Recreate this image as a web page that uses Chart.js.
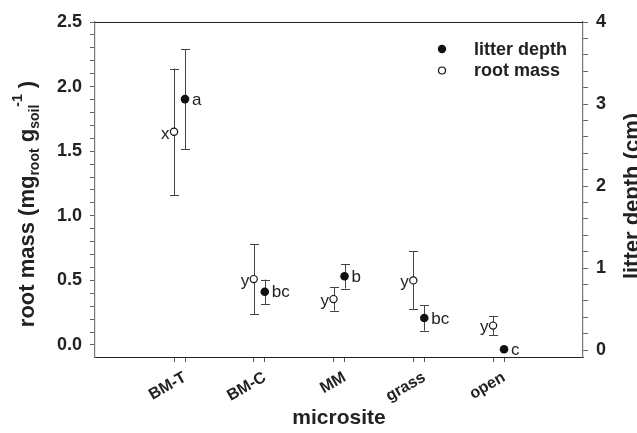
<!DOCTYPE html>
<html><head><meta charset="utf-8">
<script src="https://cdn.jsdelivr.net/npm/chart.js@4.4.0/dist/chart.umd.min.js"></script>
<style>html,body{margin:0;padding:0;background:#fff;} canvas{display:block;}</style>
</head><body>
<canvas id="c" width="637" height="433"></canvas>
<script>
const categories = ['BM-T','BM-C','MM','grass','open'];
const rootMass = [1.65, 0.51, 0.355, 0.50, 0.15];
const rootMassErr = [0.49, 0.27, 0.09, 0.225, 0.075];
const litterDepth = [3.06, 0.71, 0.90, 0.39, 0.01];
const litterDepthErr = [0.61, 0.15, 0.15, 0.155, 0];
const rootLetters = ['x','y','y','y','y'];
const litterLetters = ['a','bc','b','bc','c'];
const leftTickLabels = ['0.0','0.5','1.0','1.5','2.0','2.5'];
const rightTickLabels = ['0','1','2','3','4'];
const litterOffset = 0.138;
const FONT = '"Liberation Sans", Arial, Helvetica, sans-serif';
const TXT = '#222';

const rootData = rootMass.map((v,i)=>({x:i+1, y:v}));
const litterData = litterDepth.map((v,i)=>({x:i+1+litterOffset, y:v}));

const decor = {
  id:'decor',
  beforeDatasetsDraw(chart){
    const {ctx, chartArea:a, scales} = chart;
    const xs = scales.x, yl = scales.y, yr = scales.y2;
    ctx.save();
    ctx.strokeStyle = '#222'; ctx.lineWidth = 1;
    ctx.beginPath(); ctx.moveTo(a.left, a.top+0.5); ctx.lineTo(a.right, a.top+0.5); ctx.stroke();
    ctx.strokeStyle = '#444'; ctx.lineWidth = 1;
    const bar = (x, y1, y2) => {
      const X = Math.round(x)+0.5;
      ctx.beginPath();
      ctx.moveTo(X, y1); ctx.lineTo(X, y2);
      ctx.moveTo(X-4.5, Math.round(y1)+0.5); ctx.lineTo(X+4.5, Math.round(y1)+0.5);
      ctx.moveTo(X-4.5, Math.round(y2)+0.5); ctx.lineTo(X+4.5, Math.round(y2)+0.5);
      ctx.stroke();
    };
    rootMass.forEach((v,i)=>{
      if (rootMassErr[i]>0) bar(xs.getPixelForValue(i+1), yl.getPixelForValue(v+rootMassErr[i]), yl.getPixelForValue(v-rootMassErr[i]));
    });
    litterDepth.forEach((v,i)=>{
      if (litterDepthErr[i]>0) bar(xs.getPixelForValue(i+1+litterOffset), yr.getPixelForValue(v+litterDepthErr[i]), yr.getPixelForValue(v-litterDepthErr[i]));
    });
    ctx.restore();
  },
  afterDatasetsDraw(chart){
    const {ctx, chartArea:a, scales} = chart;
    const xs = scales.x, yl = scales.y, yr = scales.y2;
    ctx.save();
    ctx.fillStyle = TXT;
    ctx.font = '17px ' + FONT;
    ctx.textBaseline = 'middle';
    ctx.textAlign = 'right';
    rootMass.forEach((v,i)=>{
      ctx.fillText(rootLetters[i], xs.getPixelForValue(i+1)-4.5, yl.getPixelForValue(v)+2);
    });
    ctx.textAlign = 'left';
    litterDepth.forEach((v,i)=>{
      ctx.fillText(litterLetters[i], xs.getPixelForValue(i+1+litterOffset)+7, yr.getPixelForValue(v)+1);
    });
    // legend
    ctx.beginPath(); ctx.arc(442, 49, 4.2, 0, Math.PI*2); ctx.fillStyle='#111'; ctx.fill();
    ctx.beginPath(); ctx.arc(442, 70.5, 3.5, 0, Math.PI*2); ctx.fillStyle='#fff'; ctx.fill();
    ctx.strokeStyle='#111'; ctx.lineWidth=1.2; ctx.stroke();
    ctx.fillStyle = TXT;
    ctx.font = 'bold 18px ' + FONT;
    ctx.textAlign='left'; ctx.textBaseline='middle';
    ctx.fillText('litter depth', 474, 50);
    ctx.fillText('root mass', 474, 71);
    // left title with sub/superscripts
    const big = 'bold 22px ' + FONT, small = 'bold 14px ' + FONT;
    const parts = [
      {t:'root mass (mg', f:big, dy:0},
      {t:'root', f:small, dy:5},
      {t:' g', f:big, dy:0},
      {t:'soil', f:small, dy:5, keep:true},
      {t:'-1', f:small, dy:-12},
      {t:' )', f:big, dy:0}
    ];
    let total = 0, widths = [];
    parts.forEach((p,k)=>{ ctx.font = p.f; const w = ctx.measureText(p.t).width; widths.push(w); });
    total = widths.reduce((s,w)=>s+w,0) - 2;
    ctx.save();
    ctx.translate(34, 204);
    ctx.rotate(-Math.PI/2);
    ctx.textAlign='left'; ctx.textBaseline='alphabetic';
    let xx = -total/2;
    parts.forEach((p,k)=>{
      ctx.font = p.f;
      ctx.fillText(p.t, xx, p.dy);
      xx += widths[k];
      if (p.keep) xx -= 2;
    });
    ctx.restore();
    // right title
    ctx.save();
    ctx.translate(639, 196);
    ctx.rotate(-Math.PI/2);
    ctx.font = 'bold 22px ' + FONT;
    ctx.textAlign='center'; ctx.textBaseline='alphabetic';
    ctx.fillText('litter depth (cm)', 0, 0);
    ctx.restore();
    ctx.restore();
  }
};

const yTicksLeft = [];
for (let k=0;k<=25;k++) yTicksLeft.push(+(k*0.1).toFixed(2));
const yTicksRight = [];
for (let k=0;k<=20;k++) yTicksRight.push(+(k*0.2).toFixed(2));

new Chart(document.getElementById('c'), {
  type:'scatter',
  data:{
    datasets:[
      {label:'root mass', data:rootData, yAxisID:'y', xAxisID:'x', pointRadius:3.6, pointBackgroundColor:'#fff', pointBorderColor:'#111', pointBorderWidth:1.2, clip:false},
      {label:'litter depth', data:litterData, yAxisID:'y2', xAxisID:'x', pointRadius:4.3, pointBackgroundColor:'#111', pointBorderColor:'#111', pointBorderWidth:0, clip:false}
    ]
  },
  options:{
    responsive:false, animation:false, devicePixelRatio:1,
    layout:{padding:{top:22,left:0,right:0,bottom:0}},
    plugins:{legend:{display:false}, tooltip:{enabled:false}},
    scales:{
      x:{
        type:'linear', position:'bottom', min:0.0094, max:6.128,
        afterBuildTicks:(s)=>{ const t=[]; categories.forEach((c,i)=>{t.push({value:i+1}); t.push({value:i+1+litterOffset});}); s.ticks=t; },
        afterFit:(s)=>{ s.height = 76; },
        ticks:{autoSkip:false, minRotation:30, maxRotation:30, padding:6, color:TXT, font:{family:FONT, size:16, weight:'bold'},
          callback:(v,idx)=> idx%2===1 ? categories[(idx-1)/2] : ''},
        grid:{display:true, drawOnChartArea:false, drawTicks:true, tickLength:5, color:'#555'},
        border:{display:true, color:'#222', width:1},
        title:{display:true, text:'microsite', color:TXT, font:{family:FONT, size:21, weight:'bold'}, padding:{top:0,bottom:2}}
      },
      y:{
        type:'linear', position:'left', min:-0.093, max:2.5,
        afterBuildTicks:(s)=>{ s.ticks = yTicksLeft.map(v=>({value:v})); },
        afterFit:(s)=>{ s.width = 95; },
        ticks:{autoSkip:false, padding:8, color:TXT, font:{family:FONT, size:18, weight:'bold'},
          callback:(v,idx)=> idx%5===0 ? leftTickLabels[idx/5] : ''},
        grid:{display:true, drawOnChartArea:false, drawTicks:true, tickLength:5, color:'#666'},
        border:{display:true, color:'#777', width:1.2}
      },
      y2:{
        type:'linear', position:'right', min:-0.085, max:4,
        afterBuildTicks:(s)=>{ s.ticks = yTicksRight.map(v=>({value:v})); },
        afterFit:(s)=>{ s.width = 54; },
        ticks:{autoSkip:false, padding:8, color:TXT, font:{family:FONT, size:18, weight:'bold'},
          callback:(v,idx)=> idx%5===0 ? rightTickLabels[idx/5] : ''},
        grid:{display:true, drawOnChartArea:false, drawTicks:true, tickLength:5, color:'#666'},
        border:{display:true, color:'#777', width:1.2}
      }
    }
  },
  plugins:[decor]
});
</script>
</body></html>
